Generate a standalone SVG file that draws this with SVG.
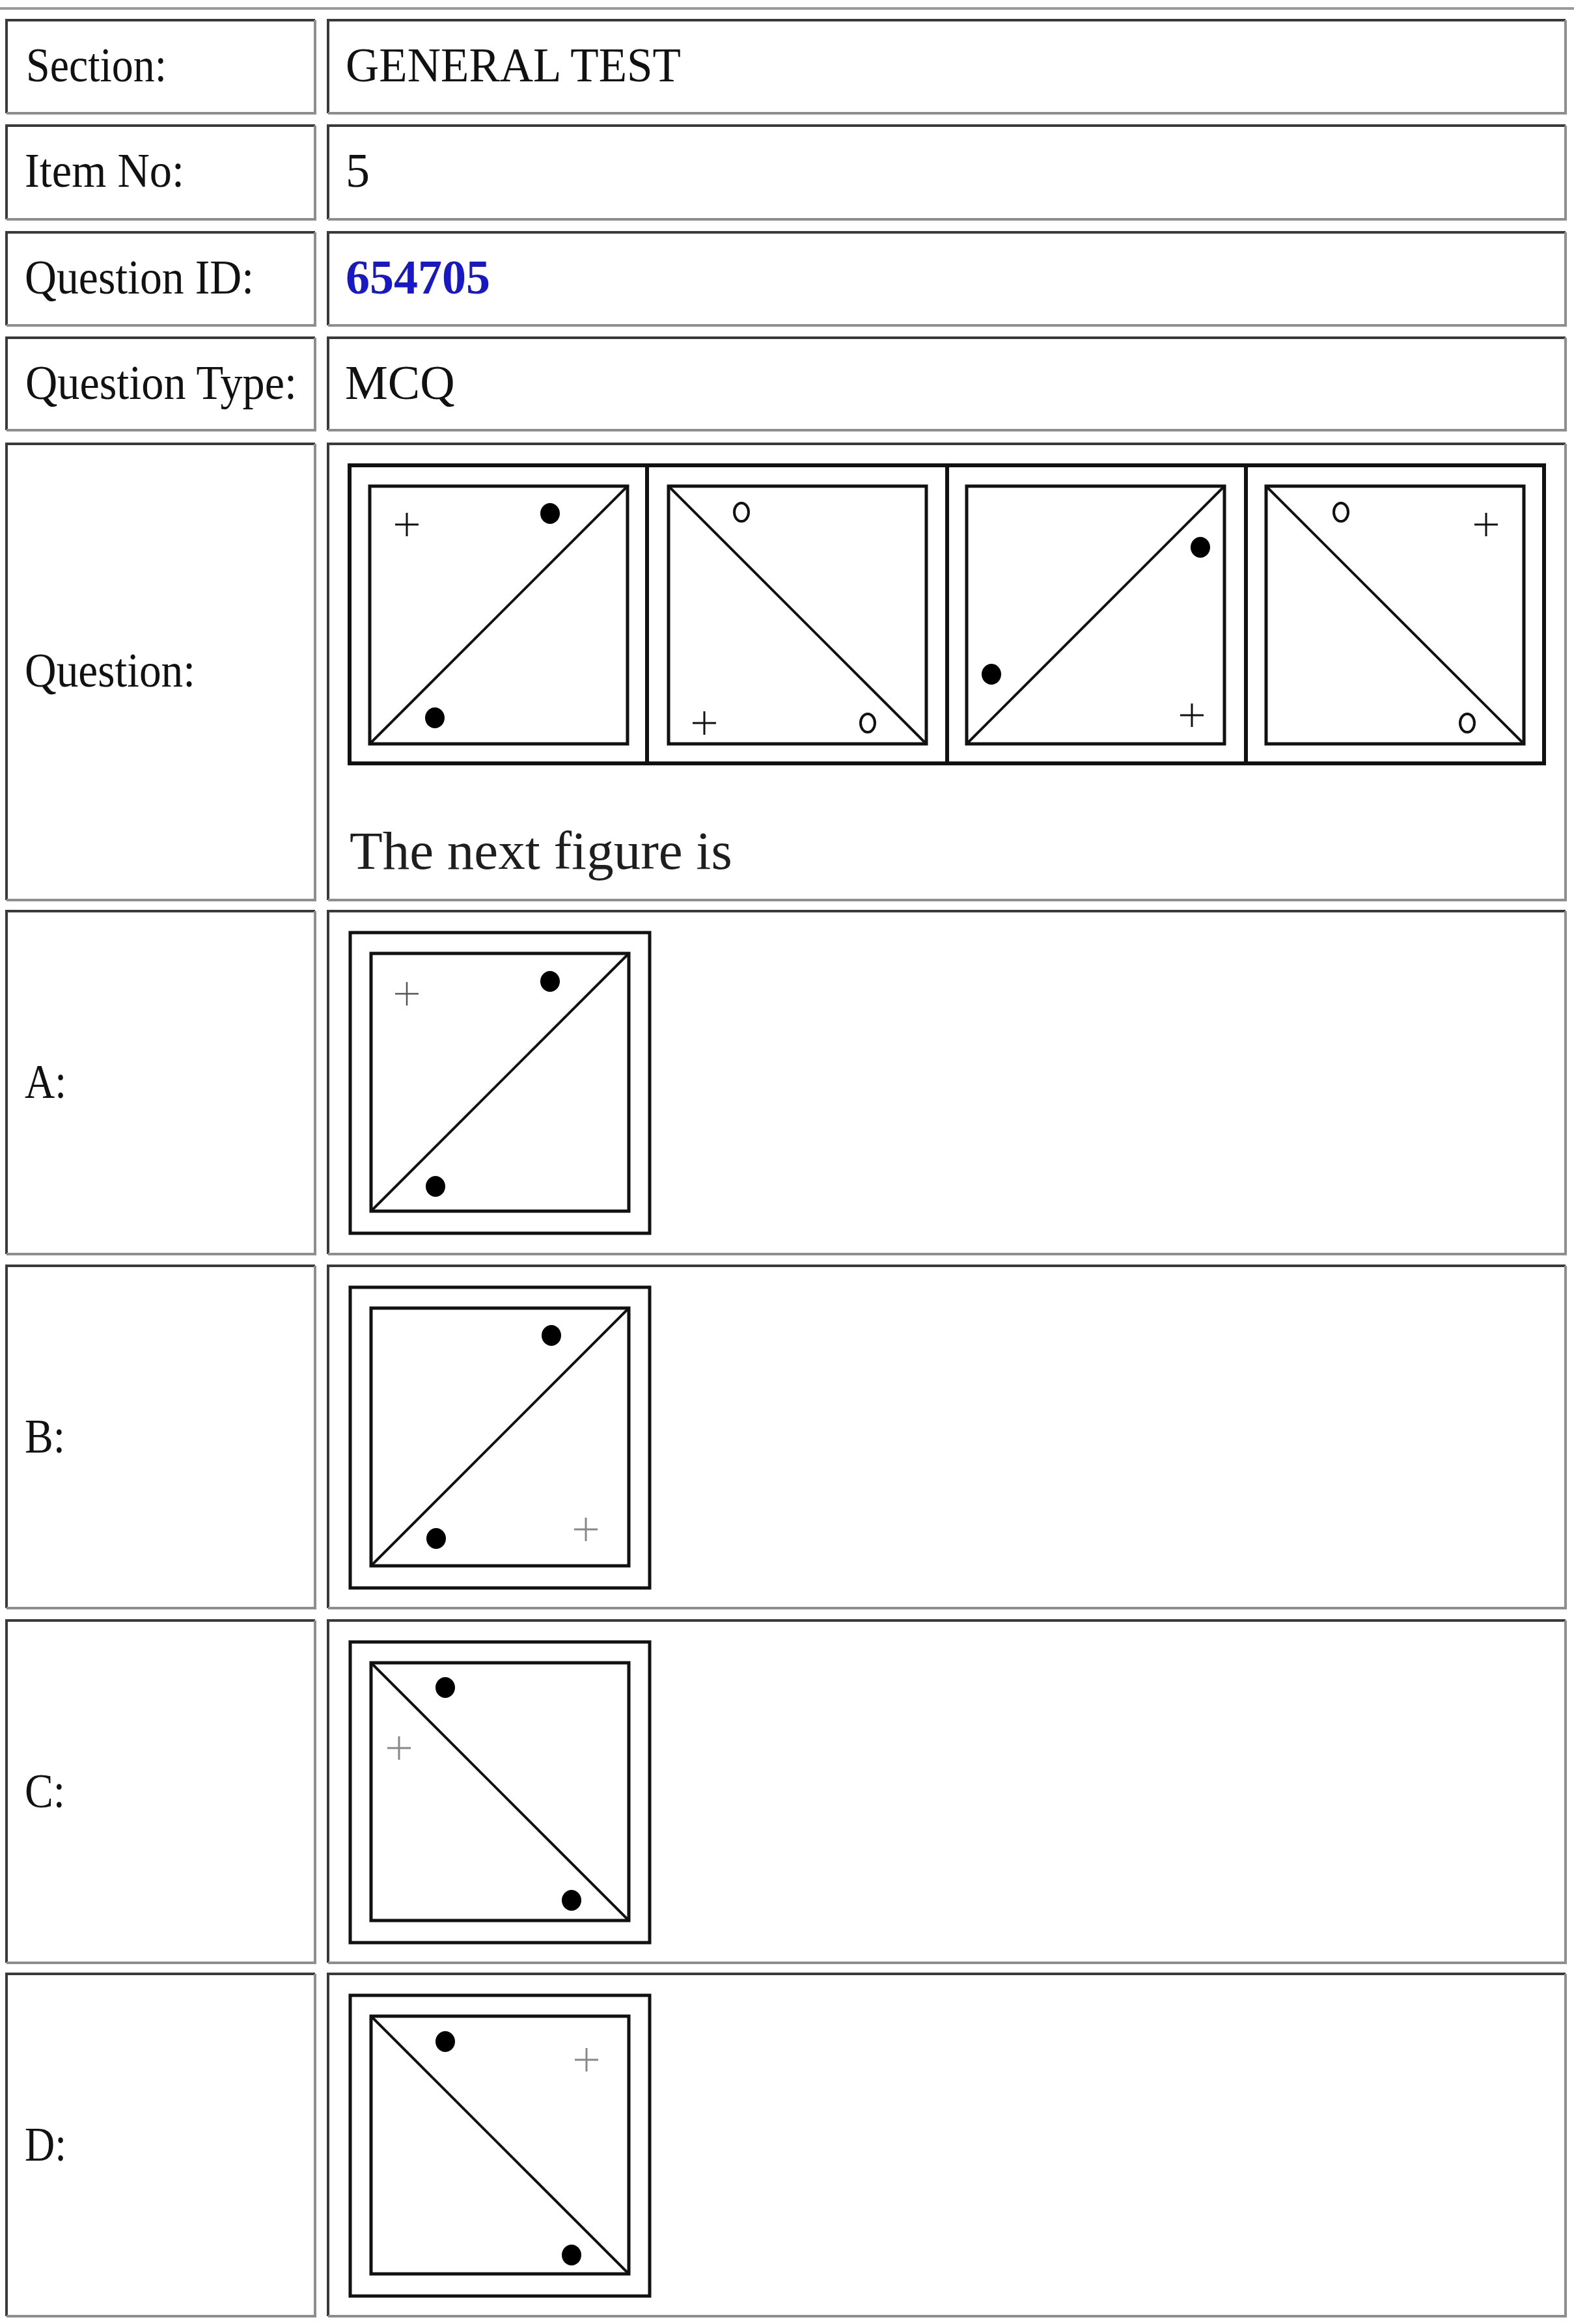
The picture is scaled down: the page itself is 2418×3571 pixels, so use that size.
<svg xmlns="http://www.w3.org/2000/svg" width="2418" height="3571" viewBox="0 0 2418 3571">
<style>
.dk{fill:none;stroke:#3a3a3a;stroke-width:4}
.lt{fill:none;stroke:#8e8e8e;stroke-width:4}
.lbl{font-family:"Liberation Serif","Times New Roman",serif;font-size:74px;fill:#111}
.val{font-family:"Liberation Serif","Times New Roman",serif;font-size:74px;fill:#111}
.id{font-family:"Liberation Serif","Times New Roman",serif;font-size:74px;font-weight:bold;fill:#1818c4}
.nf{font-family:"Liberation Serif","Times New Roman",serif;font-size:83px;fill:#1e1e1e}
.fr{fill:none;stroke:#111;stroke-width:6}
.sq{fill:none;stroke:#111;stroke-width:5}
.dg{fill:none;stroke:#111;stroke-width:4}
.dot{fill:#000}
.ring{fill:none;stroke:#111;stroke-width:4}
.pl{fill:none;stroke:#111;stroke-width:3}
.plg{fill:none;stroke:#555;stroke-width:2.5}
.plq{fill:none;stroke:#888;stroke-width:3}
</style>
<defs>
<path id="plus" d="M-18 0H18M0 -18V18"/>
</defs>
<rect width="2418" height="3571" fill="#fff"/>
<line x1="0" y1="13" x2="2418" y2="13" stroke="#9a9a9a" stroke-width="4"/>

<g id="cells">
<g id="row-section">
<path class="dk" d="M10 174V31H484"/><path class="lt" d="M10 174H484V31"/>
<path class="dk" d="M504 174V31H2405"/><path class="lt" d="M504 174H2405V31"/>
<text class="lbl" x="40" y="125" textLength="216" lengthAdjust="spacingAndGlyphs">Section:</text>
<text class="val" x="531" y="125" textLength="515" lengthAdjust="spacingAndGlyphs">GENERAL TEST</text>
</g>
<g id="row-item">
<path class="dk" d="M10 337V193H484"/><path class="lt" d="M10 337H484V193"/>
<path class="dk" d="M504 337V193H2405"/><path class="lt" d="M504 337H2405V193"/>
<text class="lbl" x="38" y="287" textLength="245" lengthAdjust="spacingAndGlyphs">Item No:</text>
<text class="val" x="531" y="287">5</text>
</g>
<g id="row-qid">
<path class="dk" d="M10 500V357H484"/><path class="lt" d="M10 500H484V357"/>
<path class="dk" d="M504 500V357H2405"/><path class="lt" d="M504 500H2405V357"/>
<text class="lbl" x="38" y="451" textLength="352" lengthAdjust="spacingAndGlyphs">Question ID:</text>
<text class="id" x="531" y="451">654705</text>
</g>
<g id="row-qtype">
<path class="dk" d="M10 661V519H484"/><path class="lt" d="M10 661H484V519"/>
<path class="dk" d="M504 661V519H2405"/><path class="lt" d="M504 661H2405V519"/>
<text class="lbl" x="39" y="613" textLength="417" lengthAdjust="spacingAndGlyphs">Question Type:</text>
<text class="val" x="530" y="613">MCQ</text>
</g>
<g id="row-question">
<path class="dk" d="M10 1383V682H484"/><path class="lt" d="M10 1383H484V682"/>
<path class="dk" d="M504 1383V682H2405"/><path class="lt" d="M504 1383H2405V682"/>
<text class="lbl" x="38" y="1055" textLength="262" lengthAdjust="spacingAndGlyphs">Question:</text>
<text class="nf" x="537" y="1335">The next figure is</text>
</g>
<g id="row-a">
<path class="dk" d="M10 1927V1400H484"/><path class="lt" d="M10 1927H484V1400"/>
<path class="dk" d="M504 1927V1400H2405"/><path class="lt" d="M504 1927H2405V1400"/>
<text class="lbl" x="38" y="1687" textLength="64" lengthAdjust="spacingAndGlyphs">A:</text>
</g>
<g id="row-b">
<path class="dk" d="M10 2471V1945H484"/><path class="lt" d="M10 2471H484V1945"/>
<path class="dk" d="M504 2471V1945H2405"/><path class="lt" d="M504 2471H2405V1945"/>
<text class="lbl" x="38" y="2232" textLength="62" lengthAdjust="spacingAndGlyphs">B:</text>
</g>
<g id="row-c">
<path class="dk" d="M10 3016V2490H484"/><path class="lt" d="M10 3016H484V2490"/>
<path class="dk" d="M504 3016V2490H2405"/><path class="lt" d="M504 3016H2405V2490"/>
<text class="lbl" x="38" y="2777" textLength="62" lengthAdjust="spacingAndGlyphs">C:</text>
</g>
<g id="row-d">
<path class="dk" d="M10 3559V3033H484"/><path class="lt" d="M10 3559H484V3033"/>
<path class="dk" d="M504 3559V3033H2405"/><path class="lt" d="M504 3559H2405V3033"/>
<text class="lbl" x="38" y="3320" textLength="64" lengthAdjust="spacingAndGlyphs">D:</text>
</g>
</g>

<g id="question-figures">
<rect class="fr" x="537" y="715" width="1835" height="458"/>
<line class="fr" x1="994" y1="715" x2="994" y2="1173"/>
<line class="fr" x1="1455" y1="715" x2="1455" y2="1173"/>
<line class="fr" x1="1914" y1="715" x2="1914" y2="1173"/>
<g id="fig1" transform="translate(568,747)">
<rect class="sq" width="396" height="396"/>
<path class="dg" d="M0 396L396 0"/>
<use href="#plus" class="pl" x="57" y="59"/>
<ellipse class="dot" cx="277" cy="42" rx="15" ry="16"/>
<ellipse class="dot" cx="100" cy="356" rx="15" ry="16"/>
</g>
<g id="fig2" transform="translate(1027,747)">
<rect class="sq" width="396" height="396"/>
<path class="dg" d="M0 0L396 396"/>
<ellipse class="ring" cx="112" cy="40" rx="11" ry="14"/>
<ellipse class="ring" cx="306" cy="364" rx="11" ry="14"/>
<use href="#plus" class="pl" x="55" y="364"/>
</g>
<g id="fig3" transform="translate(1485,747)">
<rect class="sq" width="396" height="396"/>
<path class="dg" d="M0 396L396 0"/>
<ellipse class="dot" cx="359" cy="94" rx="15" ry="16"/>
<ellipse class="dot" cx="38" cy="289" rx="15" ry="16"/>
<use href="#plus" class="pl" x="346" y="352"/>
</g>
<g id="fig4" transform="translate(1945,747)">
<rect class="sq" width="396" height="396"/>
<path class="dg" d="M0 0L396 396"/>
<ellipse class="ring" cx="115" cy="40" rx="11" ry="14"/>
<use href="#plus" class="pl" x="338" y="59"/>
<ellipse class="ring" cx="309" cy="364" rx="11" ry="14"/>
</g>
</g>

<g id="option-a" transform="translate(0,1400)">
<rect class="sq" x="538" y="33" width="460" height="462"/>
<g transform="translate(570,65)">
<rect class="sq" width="396" height="396"/>
<path class="dg" d="M0 396L396 0"/>
<use href="#plus" class="plg" x="55" y="62"/>
<ellipse class="dot" cx="275" cy="43" rx="15" ry="16"/>
<ellipse class="dot" cx="99" cy="358" rx="15" ry="16"/>
</g>
</g>
<g id="option-b" transform="translate(0,1945)">
<rect class="sq" x="538" y="33" width="460" height="462"/>
<g transform="translate(570,65)">
<rect class="sq" width="396" height="396"/>
<path class="dg" d="M0 396L396 0"/>
<ellipse class="dot" cx="277" cy="42" rx="15" ry="16"/>
<ellipse class="dot" cx="100" cy="354" rx="15" ry="16"/>
<use href="#plus" class="plq" x="330" y="340"/>
</g>
</g>
<g id="option-c" transform="translate(0,2490)">
<rect class="sq" x="538" y="33" width="460" height="462"/>
<g transform="translate(570,65)">
<rect class="sq" width="396" height="396"/>
<path class="dg" d="M0 0L396 396"/>
<ellipse class="dot" cx="114" cy="38" rx="15" ry="16"/>
<use href="#plus" class="plq" x="43" y="131"/>
<ellipse class="dot" cx="308" cy="365" rx="15" ry="16"/>
</g>
</g>
<g id="option-d" transform="translate(0,3033)">
<rect class="sq" x="538" y="33" width="460" height="462"/>
<g transform="translate(570,65)">
<rect class="sq" width="396" height="396"/>
<path class="dg" d="M0 0L396 396"/>
<ellipse class="dot" cx="114" cy="39" rx="15" ry="16"/>
<use href="#plus" class="plq" x="331" y="67"/>
<ellipse class="dot" cx="308" cy="367" rx="15" ry="16"/>
</g>
</g>
</svg>
